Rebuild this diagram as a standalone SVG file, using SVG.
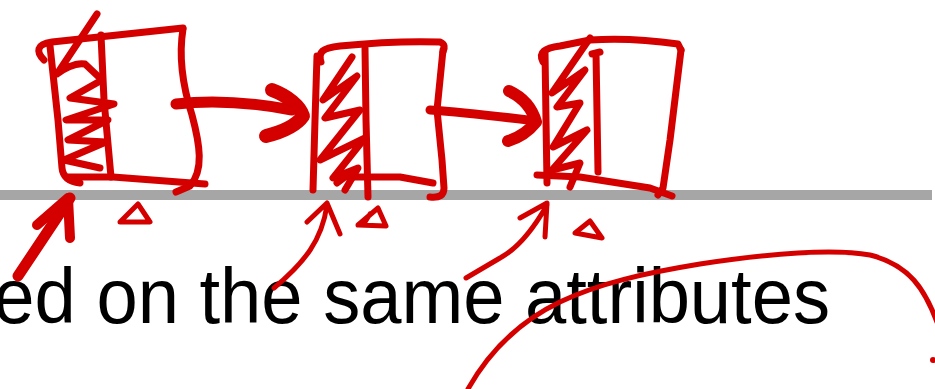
<svg xmlns="http://www.w3.org/2000/svg" width="935" height="389" viewBox="0 0 935 389">
<style>
.ink{fill:none;stroke:#d40000;stroke-width:7;stroke-linecap:round;stroke-linejoin:round}
.thin{stroke-width:5}
.heavy{stroke-width:11}
.txt{font-family:"Liberation Sans",Arial,sans-serif;font-size:77px;fill:#000}
</style>
<rect width="935" height="389" fill="#fff"/>
<rect x="0" y="190" width="932" height="10" fill="#a6a6a6"/>
<text class="txt" transform="translate(830,322.5) scale(0.963,1)" x="0" y="0" text-anchor="end">ed on the same attributes</text>
<g id="box1">
<path class="ink" d="M44,60 C36,52 36,44 52,42 L183,28"/>
<path class="ink" d="M183,29 C178,60 184,90 192,115 C200,145 204,170 190,186 L176,192"/>
<path class="ink" d="M50,46 L58,120 L62,168 C63,178 70,182 80,183"/>
<path class="ink" d="M68,177 L113,177 L205,184"/>
<path class="ink" d="M101,35 L104,100 L111,177"/>
<path class="ink" d="M97,14 L57,74 C62,70 75,62 85,64 L102,80 L70,98 L114,104 L66,120 L108,120 L68,140 L106,142 L64,160 L100,168"/>
<path class="ink thin" d="M120,222 L138,204 L150,222 Z"/>
</g>
<g id="box2">
<path class="ink" d="M321,62 C318,52 322,48 340,46 C370,43 410,41 440,42 C445,44 445,48 443,52"/>
<path class="ink" d="M443,50 L437,110 L442,160 L444,188 C444,195 440,198 430,197"/>
<path class="ink" d="M317,56 L315,120 L313,190"/>
<path class="ink" d="M365,48 L366,120 L368,197"/>
<path class="ink" d="M337,183 L345,177 L400,177 L433,183"/>
<path class="ink" d="M352,57 L323,100 L357,76 L325,118 L360,110 L320,160 L365,138 L333,178 L358,168 L345,190"/>
<path class="ink thin" d="M358,225 L378,208 L386,226 Z M370,214 L365,222"/>
</g>
<g id="box3">
<path class="ink" d="M543,62 C538,52 545,48 560,46 L590,40 C620,38 650,40 678,44 L681,50"/>
<path class="ink" d="M681,50 L670,140 L663,188 L658,195"/>
<path class="ink" d="M545,52 L546,120 L547,183"/>
<path class="ink" d="M596,53 L598,172 M592,54 L600,52"/>
<path class="ink" d="M537,175 L580,177 L650,188 L672,196"/>
<path class="ink" d="M590,38 L552,93 L585,70 L557,107 L580,103 L553,147 L587,130 L552,170 L580,163 L570,187"/>
<path class="ink thin" d="M575,233 L590,221 L602,238 Z"/>
</g>
<g id="connectors">
<path class="ink heavy" d="M176,104 C210,100 250,102 292,110"/>
<path class="ink" style="stroke-width:14" d="M272,90 C288,96 300,106 303,116 C296,126 282,132 266,136"/>
<path class="ink" style="stroke-width:9" d="M430,110 C460,112 495,116 528,120"/>
<path class="ink" style="stroke-width:12" d="M509,91 C522,97 532,108 536,122 C528,132 518,138 508,141"/>
<path class="ink heavy" d="M18,276 L70,198"/>
<path class="ink" style="stroke-width:10" d="M37,225 L68,198 L70,238"/>
<path class="ink thin" d="M307,222 L327,203 L340,234 M327,205 C322,240 305,262 274,288"/>
<path class="ink thin" d="M520,218 L547,203 L545,237 M547,205 C530,235 515,250 500,258 L466,278"/>
</g>
<path class="ink thin" d="M468,389 C515,305 590,282 700,264 C760,255 830,248 870,255 C910,265 925,290 937,322"/>
<circle cx="933" cy="360" r="3" fill="#d40000"/>
</svg>
